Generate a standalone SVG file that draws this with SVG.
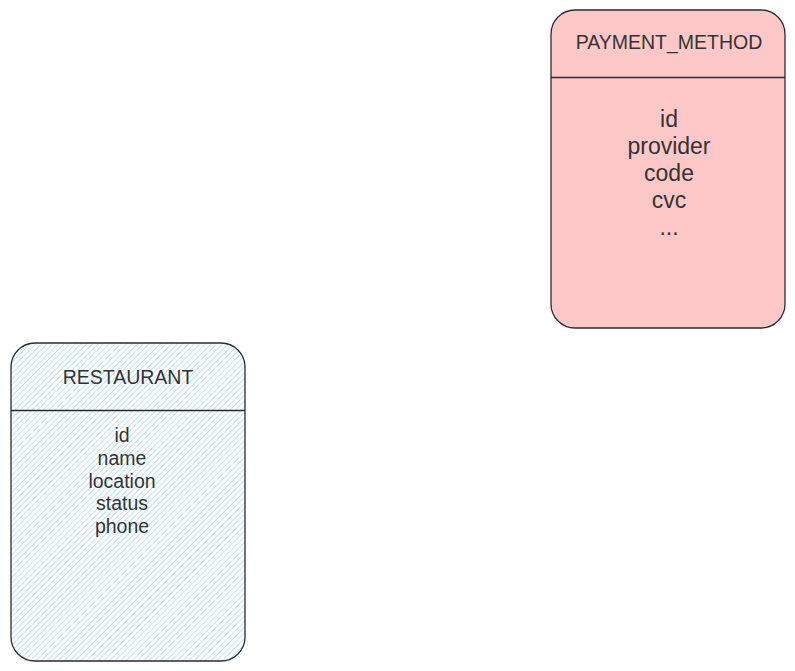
<svg xmlns="http://www.w3.org/2000/svg" width="795" height="671" viewBox="0 0 795 671">
  <defs>
    <pattern id="hatch" patternUnits="userSpaceOnUse" width="4" height="4" patternTransform="rotate(45)">
      <rect width="4" height="4" fill="#ffffff"/>
      <line x1="0" y1="0" x2="0" y2="4" stroke="#a8d3f5" stroke-width="1.4"/>
    </pattern>
  </defs>
  <style>
    .box { stroke: #2b2b2b; stroke-width: 1.3; }
    .div { stroke: #2b2b2b; stroke-width: 1.3; fill: none; }
    .hdr { font-family: "Liberation Sans", Arial, sans-serif; font-size: 19.5px; fill: #333333; text-anchor: middle; }
    .fld { font-family: "Liberation Sans", Arial, sans-serif; fill: #333333; text-anchor: middle; }
  </style>
  <rect width="795" height="671" fill="#ffffff"/>
  <g id="payment_method">
    <rect class="box" x="551" y="10" width="234" height="318" rx="24" ry="24" fill="#ffc8c8"/>
    <line class="div" x1="551" y1="77.5" x2="785" y2="77.5"/>
    <text class="hdr" x="669" y="49">PAYMENT_METHOD</text>
    <g class="fld" style="font-size:23px">
      <text x="669" y="127">id</text>
      <text x="669" y="154">provider</text>
      <text x="669" y="181">code</text>
      <text x="669" y="208">cvc</text>
      <text x="669" y="235">...</text>
    </g>
  </g>
  <g id="restaurant">
    <rect class="box" x="11" y="343" width="234" height="318" rx="24" ry="24" fill="url(#hatch)"/>
    <line class="div" x1="11" y1="410.5" x2="245" y2="410.5"/>
    <text class="hdr" x="128" y="384">RESTAURANT</text>
    <g class="fld" style="font-size:19.5px">
      <text x="122" y="442">id</text>
      <text x="122" y="465">name</text>
      <text x="122" y="487.5">location</text>
      <text x="122" y="510">status</text>
      <text x="122" y="533">phone</text>
    </g>
  </g>
  <g id="connectors"/>
</svg>
